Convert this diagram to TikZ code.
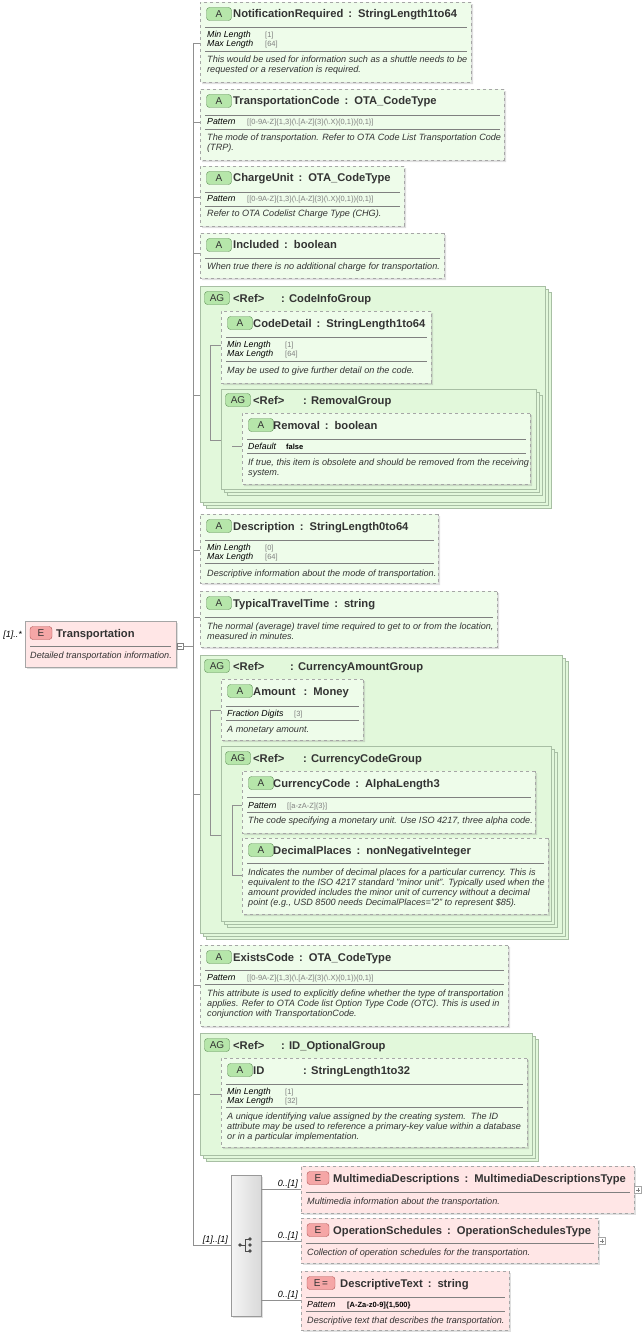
\documentclass[tikz,border=0pt]{standalone}
\usepackage{fontspec}
\setmainfont{Liberation Sans}
\usetikzlibrary{shapes.misc,shadows}
\definecolor{attrfill}{HTML}{EEFCEA}
\definecolor{agfill}{HTML}{E2F8DB}
\definecolor{agline}{HTML}{A8BFA4}
\definecolor{elfill}{HTML}{FFE6E6}
\definecolor{bgreen}{HTML}{B6E6AA}
\definecolor{bgreenl}{HTML}{5E8F55}
\definecolor{bred}{HTML}{F5A6A6}
\definecolor{bredl}{HTML}{B25454}
\definecolor{txt}{HTML}{333333}
\definecolor{conn}{HTML}{909090}
\tikzset{
 attr/.style={chamfered rectangle, chamfered rectangle corners={north west,south west}, chamfered rectangle xsep=5pt, draw=gray!70, dashed, fill=attrfill, inner sep=0pt, anchor=north west, drop shadow={shadow xshift=2pt,shadow yshift=-2pt,opacity=0.25,fill=gray}},
 agbox/.style={chamfered rectangle, chamfered rectangle corners={north west,south west}, chamfered rectangle xsep=5pt, draw=agline, fill=agfill, inner sep=0pt, anchor=north west, double copy shadow={shadow xshift=3pt,shadow yshift=-3pt}},
 elbox/.style={draw=gray!70, fill=elfill, inner sep=0pt, anchor=north west, drop shadow={shadow xshift=2pt,shadow yshift=-2pt,opacity=0.25,fill=gray}},
 elchild/.style={elbox, dashed},
 badge/.style={draw=bgreenl, fill=bgreen, rounded corners=3pt, minimum height=13pt, minimum width=25pt, inner sep=0pt, font=\fontsize{10}{11}\selectfont, text=txt},
 ebadge/.style={badge, draw=bredl, fill=bred},
 ttl/.style={anchor=base west, inner sep=0pt, font=\bfseries\fontsize{11.2}{12}\selectfont, text=txt},
 dsc/.style={anchor=base west, inner sep=0pt, font=\itshape\fontsize{9.1}{10}\selectfont, text=txt},
 key/.style={anchor=base west, inner sep=0pt, font=\itshape\fontsize{8.8}{10}\selectfont, text=black},
 val/.style={anchor=base west, inner sep=0pt, font=\fontsize{7.5}{8}\selectfont, text=gray},
 bval/.style={anchor=base west, inner sep=0pt, font=\bfseries\fontsize{7.5}{8}\selectfont, text=black},
 card/.style={anchor=base east, inner sep=0pt, font=\itshape\fontsize{9}{10}\selectfont, text=black},
 sep/.style={draw=gray, line width=0.5pt},
 cn/.style={draw=conn, line width=0.6pt},
}
\newcommand\Tt[3]{\node[ttl] at (#1,#2) {#3};}
\newcommand\Ds[3]{\node[dsc] at (#1,#2) {#3};}
\newcommand\Sl[3]{\draw[sep] (#1,#3) -- (#2,#3);}
\begin{document}
\begin{tikzpicture}[x=1pt,y=-1pt]
\useasboundingbox[fill=white] (0,0) rectangle (643,1337);
% main element
\node[elbox, minimum width=151pt, minimum height=46pt] (tr) at (25,621) {};
\node[ebadge, minimum width=22pt] (trb) at (41,633) {E};
\Tt{56}{637}{Transportation}
\Sl{30}{171}{646}
\Ds{30}{658}{Detailed transportation information.}
\node[card] (trc) at (22,637) {[1]..*};
\node[draw=gray, fill=white, minimum size=6pt, inner sep=0pt] (trm) at (180,646) {};
\draw[gray] (178,646) -- (182,646);
% trunk
\coordinate (t0) at (193,43);
\coordinate (tb) at (193,1245);
\draw[cn] (trm.east) -- (193,646);
\draw[cn] (t0) -- (tb);
% 1 NotificationRequired
\node[attr, minimum width=271pt, minimum height=80pt] (nr) at (200,2) {};
\node[badge] at (219,14) {A};
\Tt{233}{18}{NotificationRequired \,:\, StringLength1to64}
\Sl{205}{467}{27}
\node[key] at (207,38) {Min Length}; \node[val] at (265,38) {[1]};
\node[key] at (207,47) {Max Length}; \node[val] at (265,47) {[64]};
\Sl{205}{467}{51}
\Ds{207}{63}{This would be used for information such as a shuttle needs to be}
\Ds{207}{73}{requested or a reservation is required.}
\draw[cn] (t0) -- (nr.west |- t0);
% 2 TransportationCode
\node[attr, minimum width=304pt, minimum height=71pt] (tc) at (200,89) {};
\node[badge] at (219,101) {A};
\Tt{233}{105}{TransportationCode \,:\, OTA\_CodeType}
\Sl{205}{500}{115}
\node[key] at (207,125) {Pattern}; \node[val] at (247,125) {[[0-9A-Z]\{1,3\}(\textbackslash.[A-Z]\{3\}(\textbackslash.X)\{0,1\})\{0,1\}]};
\Sl{205}{500}{129}
\Ds{207}{141}{The mode of transportation. Refer to OTA Code List Transportation Code}
\Ds{207}{151}{(TRP).}
\draw[cn] (193,122) -- (tc.west |- 0,122);
% 3 ChargeUnit
\node[attr, minimum width=204pt, minimum height=60pt] (cu) at (200,166) {};
\node[badge] at (219,178) {A};
\Tt{233}{182}{ChargeUnit \,:\, OTA\_CodeType}
\Sl{205}{400}{192}
\node[key] at (207,202) {Pattern}; \node[val] at (247,202) {[[0-9A-Z]\{1,3\}(\textbackslash.[A-Z]\{3\}(\textbackslash.X)\{0,1\})\{0,1\}]};
\Sl{205}{400}{206}
\Ds{207}{217}{Refer to OTA Codelist Charge Type (CHG).}
\draw[cn] (193,197) -- (cu.west |- 0,197);
% 4 Included
\node[attr, minimum width=244pt, minimum height=45pt] (inc) at (200,233) {};
\node[badge] at (219,245) {A};
\Tt{233}{249}{Included \,:\, boolean}
\Sl{205}{440}{258}
\Ds{207}{270}{When true there is no additional charge for transportation.}
\draw[cn] (193,253) -- (inc.west |- 0,253);
% 5 AG CodeInfoGroup
\node[agbox, minimum width=345pt, minimum height=216pt] (ag1) at (200,286) {};
\node[badge] at (217,298) {AG};
\Tt{233}{302}{<Ref>}\Tt{281}{302}{: CodeInfoGroup}
\draw[cn] (193,395) -- (ag1.west |- 0,395);
\draw[cn] (210,345) -- (210,440);
\node[attr, minimum width=210pt, minimum height=72pt] (cd) at (221,311) {};
\node[badge] at (240,323) {A};
\Tt{253}{327}{CodeDetail \,:\, StringLength1to64}
\Sl{226}{427}{337}
\node[key] at (227,347) {Min Length}; \node[val] at (285,347) {[1]};
\node[key] at (227,356) {Max Length}; \node[val] at (285,356) {[64]};
\Sl{226}{427}{361}
\Ds{227}{373}{May be used to give further detail on the code.}
\draw[cn] (210,345) -- (cd.west |- 0,345);
\node[agbox, minimum width=315pt, minimum height=100pt] (ag2) at (221,389) {};
\node[badge] at (238,400) {AG};
\Tt{253}{404}{<Ref>}\Tt{303}{404}{: RemovalGroup}
\draw[cn] (210,440) -- (ag2.west |- 0,440);
\draw[cn] (232,446) -- (242,446);
\node[attr, minimum width=288pt, minimum height=71pt] (rem) at (242,413) {};
\node[badge] at (261,425) {A};
\Tt{273}{429}{Removal \,:\, boolean}
\Sl{247}{526}{439}
\node[key] at (248,449) {Default}; \node[bval] at (286,449) {false};
\Sl{247}{526}{453}
\Ds{248}{465}{If true, this item is obsolete and should be removed from the receiving}
\Ds{248}{475}{system.}
% 6 Description
\node[attr, minimum width=238pt, minimum height=69pt] (de) at (200,514) {};
\node[badge] at (219,526) {A};
\Tt{233}{530}{Description \,:\, StringLength0to64}
\Sl{205}{434}{540}
\node[key] at (207,550) {Min Length}; \node[val] at (265,550) {[0]};
\node[key] at (207,559) {Max Length}; \node[val] at (265,559) {[64]};
\Sl{205}{434}{563}
\Ds{207}{576}{Descriptive information about the mode of transportation.}
\draw[cn] (193,550) -- (de.west |- 0,550);
% 7 TypicalTravelTime
\node[attr, minimum width=297pt, minimum height=56pt] (tt) at (200,591) {};
\node[badge] at (219,603) {A};
\Tt{233}{607}{TypicalTravelTime \,:\, string}
\Sl{205}{493}{617}
\Ds{207}{629}{The normal (average) travel time required to get to or from the location,}
\Ds{207}{639}{measured in minutes.}
\draw[cn] (193,617) -- (tt.west |- 0,617);
% 8 AG CurrencyAmountGroup
\node[agbox, minimum width=362pt, minimum height=278pt] (ag3) at (200,655) {};
\node[badge] at (217,666) {AG};
\Tt{233}{670}{<Ref>}\Tt{290}{670}{: CurrencyAmountGroup}
\draw[cn] (193,794) -- (ag3.west |- 0,794);
\draw[cn] (210,710) -- (210,835);
\node[attr, minimum width=142pt, minimum height=61pt] (am) at (221,679) {};
\node[badge] at (240,691) {A};
\Tt{253}{695}{Amount \;\,:\, Money}
\Sl{226}{359}{706}
\node[key] at (227,716) {Fraction Digits}; \node[val] at (294,716) {[3]};
\Sl{226}{359}{720}
\Ds{227}{732}{A monetary amount.}
\draw[cn] (210,710) -- (am.west |- 0,710);
\node[agbox, minimum width=330pt, minimum height=175pt] (ag4) at (221,746) {};
\node[badge] at (238,758) {AG};
\Tt{253}{762}{<Ref>}\Tt{303}{762}{: CurrencyCodeGroup}
\draw[cn] (210,835) -- (ag4.west |- 0,835);
\draw[cn] (232,805) -- (232,875);
\node[attr, minimum width=293pt, minimum height=62pt] (cc) at (242,771) {};
\node[badge] at (261,783) {A};
\Tt{273}{787}{CurrencyCode \,:\, AlphaLength3}
\Sl{247}{531}{797}
\node[key] at (248,808) {Pattern}; \node[val] at (287,808) {[[a-zA-Z]\{3\}]};
\Sl{247}{531}{812}
\Ds{248}{823}{The code specifying a monetary unit. Use ISO 4217, three alpha code.}
\draw[cn] (232,805) -- (cc.west |- 0,805);
\node[attr, minimum width=306pt, minimum height=76pt] (dp) at (242,838) {};
\node[badge] at (261,850) {A};
\Tt{273}{854}{DecimalPlaces \,:\, nonNegativeInteger}
\Sl{247}{544}{863}
\Ds{248}{875}{Indicates the number of decimal places for a particular currency. This is}
\Ds{248}{885}{equivalent to the ISO 4217 standard "minor unit". Typically used when the}
\Ds{248}{895}{amount provided includes the minor unit of currency without a decimal}
\Ds{248}{905}{point (e.g., USD 8500 needs DecimalPlaces="2" to represent \$85).}
\draw[cn] (232,875) -- (dp.west |- 0,875);
% 9 ExistsCode
\node[attr, minimum width=308pt, minimum height=81pt] (ec) at (200,945) {};
\node[badge] at (219,957) {A};
\Tt{233}{961}{ExistsCode \,:\, OTA\_CodeType}
\Sl{205}{504}{970}
\node[key] at (207,980) {Pattern}; \node[val] at (247,980) {[[0-9A-Z]\{1,3\}(\textbackslash.[A-Z]\{3\}(\textbackslash.X)\{0,1\})\{0,1\}]};
\Sl{205}{504}{984}
\Ds{207}{996}{This attribute is used to explicitly define whether the type of transportation}
\Ds{207}{1006}{applies. Refer to OTA Code list Option Type Code (OTC). This is used in}
\Ds{207}{1016}{conjunction with TransportationCode.}
\draw[cn] (193,985) -- (ec.west |- 0,985);
% 10 AG ID_OptionalGroup
\node[agbox, minimum width=332pt, minimum height=122pt] (ag5) at (200,1033) {};
\node[badge] at (217,1045) {AG};
\Tt{233}{1049}{<Ref>}\Tt{281}{1049}{: ID\_OptionalGroup}
\draw[cn] (193,1094) -- (ag5.west |- 0,1094);
\node[attr, minimum width=306pt, minimum height=89pt] (id) at (221,1058) {};
\node[badge] at (240,1070) {A};
\Tt{253}{1074}{ID}\Tt{303}{1074}{: StringLength1to32}
\Sl{226}{523}{1084}
\node[key] at (227,1094) {Min Length}; \node[val] at (285,1094) {[1]};
\node[key] at (227,1103) {Max Length}; \node[val] at (285,1103) {[32]};
\Sl{226}{523}{1107}
\Ds{227}{1119}{A unique identifying value assigned by the creating system.\ \ The ID}
\Ds{227}{1129}{attribute may be used to reference a primary-key value within a database}
\Ds{227}{1139}{or in a particular implementation.}
\draw[cn] (210,1094) -- (id.west |- 0,1094);
% 11 sequence
\node[draw=gray!80, left color=gray!8, right color=gray!30, minimum width=30pt, minimum height=141pt, inner sep=0pt, anchor=north west, drop shadow={shadow xshift=2pt,shadow yshift=-2pt,opacity=0.25,fill=gray}] (sq) at (231,1175) {};
\draw[cn] (tb) -- (sq.west |- tb);
\node[card] at (228,1242) {[1]..[1]};
\fill[black!70] (240,1245) circle (1.8pt);
\draw[black!70, line width=0.9pt] (240,1245) -- (245,1245) (245,1239) -- (245,1251) (245,1239) -- (250,1239) (245,1251) -- (250,1251);
\fill[black!70] (250,1239) circle (1.8pt) (250,1245) circle (1.8pt) (250,1251) circle (1.8pt);
% children
\node[elchild, minimum width=333pt, minimum height=47pt] (md) at (301,1166) {};
\node[ebadge, minimum width=22pt] at (318,1178) {E};
\Tt{333}{1182}{MultimediaDescriptions \,:\, MultimediaDescriptionsType}
\Sl{306}{630}{1192}
\Ds{307}{1204}{Multimedia information about the transportation.}
\node[draw=gray!70, fill=white, minimum size=7pt, inner sep=0pt] (mdp) at (638,1190) {};
\draw[gray] (636,1190) -- (640,1190) (638,1188) -- (638,1192);
\draw[cn] (sq.east |- 0,1189) -- (md.west |- 0,1189);
\node[card] at (298,1186) {0..[1]};
\node[elchild, minimum width=297pt, minimum height=45pt] (os) at (301,1218) {};
\node[ebadge, minimum width=22pt] at (318,1230) {E};
\Tt{333}{1234}{OperationSchedules \,:\, OperationSchedulesType}
\Sl{306}{594}{1243}
\Ds{307}{1255}{Collection of operation schedules for the transportation.}
\node[draw=gray!70, fill=white, minimum size=7pt, inner sep=0pt] (osp) at (602,1241) {};
\draw[gray] (600,1241) -- (604,1241) (602,1239) -- (602,1243);
\draw[cn] (sq.east |- 0,1241) -- (os.west |- 0,1241);
\node[card] at (298,1238) {0..[1]};
\node[elchild, minimum width=208pt, minimum height=59pt] (dt) at (301,1271) {};
\node[ebadge, minimum width=28pt] at (321,1283) {E\,=};
\Tt{340}{1287}{DescriptiveText \,:\, string}
\Sl{306}{505}{1297}
\node[key] at (307,1307) {Pattern}; \node[bval] at (347,1307) {[A-Za-z0-9]\{1,500\}};
\Sl{306}{505}{1311}
\Ds{307}{1323}{Descriptive text that describes the transportation.}
\draw[cn] (sq.east |- 0,1300) -- (dt.west |- 0,1300);
\node[card] at (298,1297) {0..[1]};
\end{tikzpicture}
\end{document}
